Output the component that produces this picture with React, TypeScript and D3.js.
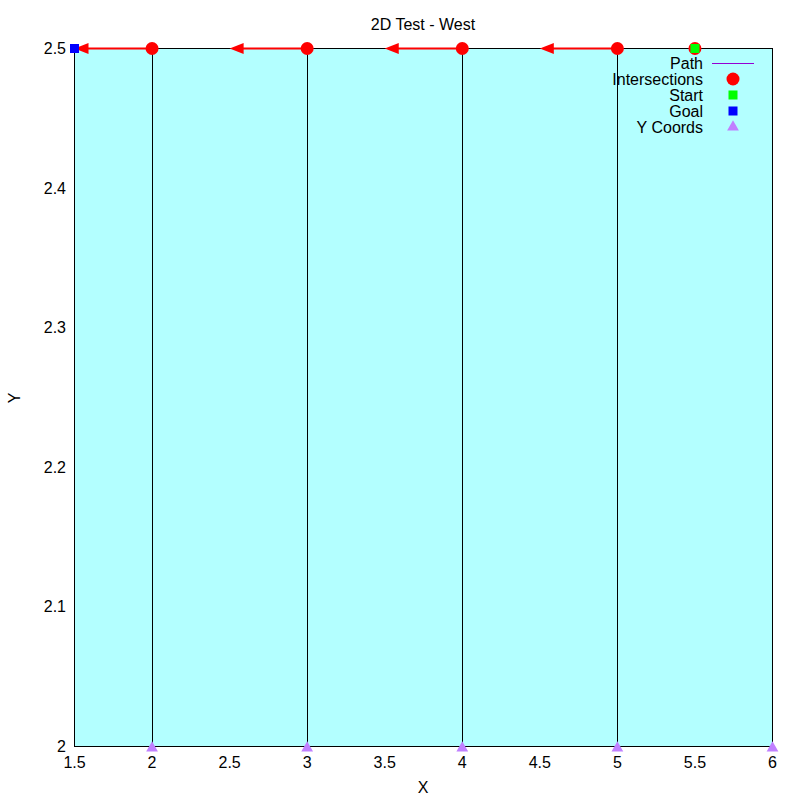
import { useEffect, useRef } from "react";
import * as d3 from "d3";

// chart values
const pathXs = [2, 3, 4, 5];
const intersectionXs = [2, 3, 4, 5, 5.5];
const arrowStarts = [5, 4, 3, 2];
const arrowDx = -0.5;
const startPoint = [5.5, 2.5];
const goalPoint = [1.5, 2.5];
const yCoordXs = [2, 3, 4, 5, 6];
const xTicks = [1.5, 2, 2.5, 3, 3.5, 4, 4.5, 5, 5.5, 6];
const yTicks = [2, 2.1, 2.2, 2.3, 2.4, 2.5];
const legendItems = ["Path", "Intersections", "Start", "Goal", "Y Coords"];

const W = 800;
const H = 800;
const font = "'Liberation Sans', Arial, sans-serif";
const fs = 16;

export default function App() {
  const svgRef = useRef<SVGSVGElement>(null);

  useEffect(() => {
    const svg = d3.select(svgRef.current);
    svg.selectAll("*").remove();

    const x = d3.scaleLinear().domain([1.5, 6]).range([74.5, 772.5]);
    const y = d3.scaleLinear().domain([2, 2.5]).range([746.5, 48.5]);

    // background
    svg.append("rect").attr("width", W).attr("height", H).attr("fill", "white");
    svg
      .append("rect")
      .attr("x", x(1.5))
      .attr("y", y(2.5))
      .attr("width", x(6) - x(1.5))
      .attr("height", y(2) - y(2.5))
      .attr("fill", "#b3ffff");

    // path (vertical lines)
    svg
      .selectAll(".path")
      .data(pathXs)
      .join("line")
      .attr("x1", (d) => Math.round(x(d)) + 0.5)
      .attr("x2", (d) => Math.round(x(d)) + 0.5)
      .attr("y1", y(2))
      .attr("y2", y(2.5))
      .attr("stroke", "black")
      .attr("stroke-width", 1);

    // border
    svg
      .append("rect")
      .attr("x", x(1.5))
      .attr("y", y(2.5))
      .attr("width", x(6) - x(1.5))
      .attr("height", y(2) - y(2.5))
      .attr("fill", "none")
      .attr("stroke", "black")
      .attr("stroke-width", 1);

    // tick labels
    svg
      .selectAll(".xt")
      .data(xTicks)
      .join("text")
      .attr("x", (d) => x(d))
      .attr("y", 768)
      .attr("text-anchor", "middle")
      .attr("font-family", font)
      .attr("font-size", fs)
      .text((d) => String(d));
    svg
      .selectAll(".yt")
      .data(yTicks)
      .join("text")
      .attr("x", 66)
      .attr("y", (d) => y(d) + 5.5)
      .attr("text-anchor", "end")
      .attr("font-family", font)
      .attr("font-size", fs)
      .text((d) => String(d));

    // arrows
    const arrows = svg.append("g");
    arrowStarts.forEach((s) => {
      const x0 = x(s);
      const x1 = x(s + arrowDx);
      const yy = y(2.5);
      arrows
        .append("line")
        .attr("x1", x0)
        .attr("x2", x1 + 10)
        .attr("y1", yy)
        .attr("y2", yy)
        .attr("stroke", "red")
        .attr("stroke-width", 2);
      arrows
        .append("path")
        .attr("d", `M${x1},${yy} L${x1 + 14},${yy - 5.5} L${x1 + 14},${yy + 5.5} Z`)
        .attr("fill", "red");
    });

    // intersections
    svg
      .selectAll(".ix")
      .data(intersectionXs)
      .join("circle")
      .attr("cx", (d) => x(d))
      .attr("cy", y(2.5))
      .attr("r", 6.5)
      .attr("fill", "red");

    // start / goal
    const sq = 9;
    svg
      .append("rect")
      .attr("x", x(startPoint[0]) - sq / 2)
      .attr("y", y(startPoint[1]) - sq / 2)
      .attr("width", sq)
      .attr("height", sq)
      .attr("fill", "#00ff00");
    svg
      .append("rect")
      .attr("x", x(goalPoint[0]) - sq / 2)
      .attr("y", y(goalPoint[1]) - sq / 2)
      .attr("width", sq)
      .attr("height", sq)
      .attr("fill", "blue");

    // y coords
    const tri = d3.symbol().type(d3.symbolTriangle).size(60);
    svg
      .selectAll(".yc")
      .data(yCoordXs)
      .join("path")
      .attr("d", tri)
      .attr("transform", (d) => `translate(${x(d)},${y(2) + 1.5})`)
      .attr("fill", "#c080ff");

    // title and axis labels
    svg
      .append("text")
      .attr("x", 423)
      .attr("y", 30)
      .attr("text-anchor", "middle")
      .attr("font-family", font)
      .attr("font-size", fs)
      .text("2D Test - West");
    svg
      .append("text")
      .attr("x", 423)
      .attr("y", 793)
      .attr("text-anchor", "middle")
      .attr("font-family", font)
      .attr("font-size", fs)
      .text("X");
    svg
      .append("text")
      .attr("transform", "translate(20,398) rotate(-90)")
      .attr("text-anchor", "middle")
      .attr("font-family", font)
      .attr("font-size", fs)
      .text("Y");

    // legend
    const lg = svg.append("g");
    legendItems.forEach((name, i) => {
      const cy = 63 + i * 16;
      lg.append("text")
        .attr("x", 703)
        .attr("y", cy + 5.5)
        .attr("text-anchor", "end")
        .attr("font-family", font)
        .attr("font-size", fs)
        .text(name);
      const sx = 733;
      if (i === 0) {
        lg.append("line")
          .attr("x1", 712)
          .attr("x2", 754)
          .attr("y1", cy + 0.5)
          .attr("y2", cy + 0.5)
          .attr("stroke", "#9400d3")
          .attr("stroke-width", 1);
      } else if (i === 1) {
        lg.append("circle").attr("cx", sx).attr("cy", cy).attr("r", 6.5).attr("fill", "red");
      } else if (i === 2 || i === 3) {
        lg.append("rect")
          .attr("x", sx - sq / 2)
          .attr("y", cy - sq / 2)
          .attr("width", sq)
          .attr("height", sq)
          .attr("fill", i === 2 ? "#00ff00" : "blue");
      } else {
        lg.append("path")
          .attr("d", tri)
          .attr("transform", `translate(${sx},${cy})`)
          .attr("fill", "#c080ff");
      }
    });
  }, []);

  return (
    <svg
      ref={svgRef}
      width={W}
      height={H}
      style={{ display: "block", position: "absolute", left: 0, top: 0 }}
    />
  );
}
